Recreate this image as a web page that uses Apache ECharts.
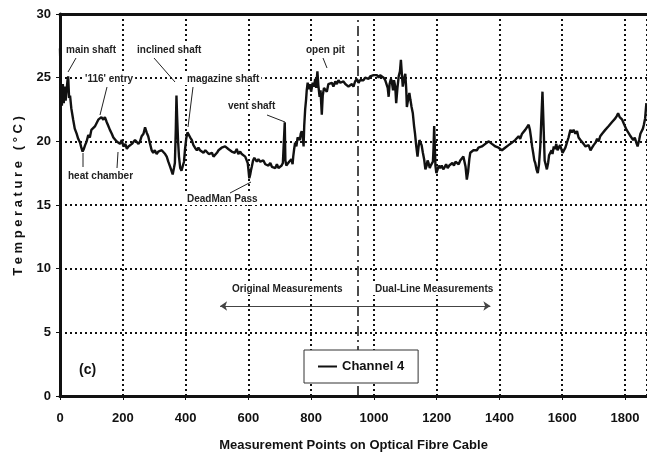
<!DOCTYPE html>
<html>
<head>
<meta charset="utf-8">
<script src="https://cdn.jsdelivr.net/npm/echarts@6/dist/echarts.min.js"></script>
<style>
  html, body { margin: 0; padding: 0; background: #fff; }
  #chart { width: 647px; height: 453px; }
</style>
</head>
<body>
<div id="chart"></div>
<script>
// measurement point positions along the cable
const points = [
  0, 3, 6, 9, 12, 15, 18, 21, 24, 26, 29, 32, 36, 42, 47, 53, 58, 64, 68, 72,
  76, 80, 85, 90, 95, 100, 106, 112, 118, 122, 127, 132, 138, 143, 149, 154, 159, 165, 170, 175,
  180, 186, 191, 197, 202, 208, 213, 218, 224, 229, 234, 239, 244, 250, 255, 260, 266, 271, 276, 281,
  286, 292, 297, 302, 308, 313, 318, 324, 329, 335, 340, 345, 351, 355, 359, 363, 366, 369, 371, 373,
  376, 379, 383, 387, 391, 395, 398, 402, 406, 410, 415, 420, 425, 430, 436, 441, 446, 452, 457, 463,
  468, 474, 479, 484, 489, 494, 500, 505, 510, 515, 520, 526, 531, 536, 541, 547, 552, 557, 563, 568,
  574, 579, 584, 590, 595, 598, 601, 603, 606, 609, 611, 615, 619, 622, 627, 632, 638, 643, 648, 654,
  659, 664, 670, 675, 680, 686, 691, 696, 701, 706, 710, 714, 716, 718, 721, 725, 730, 733, 737, 741,
  743, 746, 749, 753, 757, 760, 764, 767, 770, 773, 776, 778, 781, 784, 786, 789, 791, 794, 797, 800,
  802, 805, 809, 813, 816, 820, 823, 827, 830, 834, 837, 841, 845, 850, 855, 861, 866, 871, 877, 882,
  887, 893, 898, 903, 909, 914, 919, 924, 930, 935, 940, 946, 951, 956, 962, 967, 972, 978, 983, 988,
  994, 999, 1004, 1010, 1015, 1020, 1025, 1031, 1036, 1041, 1044, 1047, 1050, 1054, 1057, 1061, 1064, 1068, 1071, 1075,
  1079, 1083, 1086, 1089, 1092, 1096, 1100, 1103, 1105, 1109, 1113, 1116, 1120, 1124, 1128, 1131, 1135, 1139, 1142, 1145,
  1148, 1152, 1156, 1160, 1164, 1168, 1171, 1174, 1178, 1181, 1185, 1188, 1190, 1192, 1194, 1196, 1199, 1203, 1207, 1211,
  1216, 1221, 1226, 1230, 1235, 1240, 1245, 1250, 1255, 1260, 1265, 1270, 1275, 1280, 1285, 1288, 1292, 1296, 1300, 1304,
  1307, 1312, 1317, 1323, 1328, 1333, 1338, 1344, 1349, 1355, 1360, 1366, 1371, 1376, 1382, 1387, 1392, 1397, 1403, 1408,
  1413, 1418, 1424, 1429, 1434, 1440, 1445, 1450, 1456, 1461, 1466, 1472, 1477, 1482, 1488, 1493, 1497, 1501, 1504, 1508,
  1511, 1514, 1518, 1522, 1526, 1530, 1533, 1537, 1540, 1544, 1547, 1551, 1555, 1558, 1562, 1566, 1569, 1573, 1577, 1581,
  1585, 1589, 1593, 1597, 1601, 1605, 1610, 1615, 1620, 1626, 1631, 1636, 1642, 1647, 1652, 1658, 1663, 1668, 1674, 1679,
  1684, 1690, 1695, 1700, 1706, 1711, 1716, 1721, 1727, 1732, 1737, 1743, 1748, 1753, 1758, 1764, 1769, 1774, 1778, 1783,
  1787, 1791, 1796, 1800, 1805, 1810, 1815, 1821, 1826, 1831, 1836, 1840, 1845, 1849, 1853, 1857, 1860, 1864, 1868, 1870
];

// channel 4 temperature (deg C)
const channel4 = [
  27.3, 24.0, 22.8, 24.5, 23.0, 24.3, 23.2, 24.0, 24.8, 25.1, 23.4, 23.6, 22.6, 21.7, 21.0, 20.6, 20.2, 19.9, 19.5, 19.2,
  19.4, 19.7, 20.0, 20.5, 20.3, 20.9, 21.0, 21.2, 21.5, 21.7, 21.6, 21.9, 21.7, 21.9, 21.5, 21.2, 20.9, 20.6, 20.3, 20.4,
  20.0, 20.1, 19.8, 20.1, 19.6, 19.8, 19.4, 19.6, 19.5, 19.8, 19.7, 20.1, 20.2, 19.8, 20.0, 20.4, 20.6, 21.1, 20.7, 20.4,
  19.9, 19.3, 19.1, 19.3, 19.0, 19.2, 19.1, 19.3, 19.2, 19.0, 18.8, 18.4, 18.0, 17.7, 17.4, 17.9, 18.3, 21.0, 23.6, 22.0,
  20.1, 18.8, 17.9, 17.7, 17.8, 18.4, 19.3, 20.2, 20.7, 20.6, 20.3, 20.1, 19.7, 19.5, 19.3, 19.5, 19.3, 19.4, 19.1, 19.3,
  19.2, 19.0, 18.9, 19.1, 18.8, 18.9, 19.1, 19.3, 19.2, 19.5, 19.4, 19.6, 19.6, 19.4, 19.5, 19.2, 19.3, 19.1, 19.4, 19.0,
  19.2, 19.0, 19.1, 18.8, 18.9, 18.3, 17.6, 17.1, 17.4, 17.8, 18.0, 18.5, 18.7, 18.6, 18.4, 18.6, 18.4, 18.3, 18.5, 18.2,
  18.3, 18.1, 18.3, 18.0, 18.1, 17.9, 18.2, 17.9, 18.0, 18.1, 18.3, 18.4, 21.5, 18.5, 18.1, 18.0, 18.4, 18.3, 18.6, 18.2,
  18.8, 19.4, 19.9, 19.6, 20.3, 20.4, 20.1, 20.6, 20.8, 20.4, 19.6, 21.2, 22.5, 23.3, 24.0, 24.6, 24.7, 24.1, 24.5, 23.9,
  24.0, 24.6, 24.3, 24.9, 24.2, 25.5, 24.4, 23.5, 24.0, 22.1, 23.6, 24.2, 24.3, 23.9, 24.5, 24.4, 24.6, 24.3, 24.7, 24.5,
  24.8, 24.6, 24.5, 24.7, 24.5, 24.6, 24.3, 24.4, 24.5, 24.3, 24.7, 24.9, 24.6, 24.8, 24.9, 24.8, 25.0, 25.1, 24.9, 25.1,
  25.0, 25.2, 25.1, 25.2, 25.0, 25.2, 25.1, 25.0, 24.8, 24.8, 24.2, 23.5, 24.5, 24.9, 24.7, 24.0, 24.8, 24.3, 23.0, 24.2,
  25.1, 25.5, 26.4, 25.3, 24.3, 24.9, 25.3, 24.1, 22.7, 23.3, 23.8, 23.3, 22.7, 22.2, 21.2, 20.6, 19.6, 18.8, 19.5, 20.1,
  20.1, 19.7, 19.1, 18.6, 17.8, 18.1, 18.5, 18.3, 17.9, 18.1, 18.0, 18.4, 19.5, 21.2, 19.6, 18.1, 17.5, 17.8, 18.1, 17.9,
  18.1, 17.8, 18.0, 18.2, 17.9, 18.1, 18.0, 18.3, 18.1, 18.4, 18.3, 18.2, 18.5, 18.6, 18.8, 18.8, 18.0, 17.0, 17.6, 18.6,
  19.1, 19.0, 19.3, 19.2, 19.3, 19.5, 19.4, 19.6, 19.6, 19.8, 19.7, 20.0, 19.9, 19.8, 19.9, 19.6, 19.7, 19.5, 19.6, 19.3,
  19.2, 19.5, 19.4, 19.7, 19.6, 19.9, 19.8, 20.1, 20.1, 20.4, 20.2, 20.6, 20.6, 20.9, 21.0, 21.3, 20.9, 20.2, 19.6, 19.0,
  18.5, 18.3, 17.8, 17.5, 18.2, 19.6, 21.5, 23.9, 21.6, 18.5, 18.2, 17.8, 18.3, 18.9, 18.8, 19.3, 19.0, 19.6, 19.4, 19.8,
  19.3, 19.3, 19.7, 19.4, 19.1, 19.1, 19.5, 19.6, 20.3, 20.9, 20.7, 20.9, 20.6, 20.8, 20.3, 20.1, 20.2, 19.8, 19.6, 19.5,
  19.7, 19.3, 19.5, 19.7, 19.9, 20.2, 20.0, 20.4, 20.6, 20.5, 20.9, 21.0, 21.2, 21.3, 21.5, 21.6, 21.8, 22.0, 22.2, 21.9,
  21.9, 21.7, 21.4, 21.3, 20.9, 20.7, 20.5, 20.4, 20.1, 20.3, 19.9, 19.6, 20.1, 20.6, 20.7, 21.0, 21.3, 21.8, 23.0, 23.0
];

const xTicks = [0, 200, 400, 600, 800, 1000, 1200, 1400, 1600, 1800];
const yTicks = [0, 5, 10, 15, 20, 25, 30];
const boundary = 950; // start of dual-line measurements

// site labels: text, left x, middle y (px), leader line
const sites = [
  { text: "main shaft", x: 66, y: 51, line: [76, 58, 68, 72] },
  { text: "inclined shaft", x: 137, y: 51, line: [154, 58, 175, 82] },
  { text: "open pit", x: 306, y: 51, line: [323, 58, 327, 68] },
  { text: "'116' entry", x: 85, y: 80, line: [107, 87, 100, 115] },
  { text: "magazine shaft", x: 187, y: 80, line: [193, 87, 188, 127] },
  { text: "vent shaft", x: 228, y: 107, line: [267, 115, 285, 122] },
  { text: "heat chamber", x: 68, y: 177, line: [83, 153, 83, 167] },
  { text: "", x: 0, y: 0, line: [118, 152, 117, 168] },
  { text: "DeadMan Pass", x: 187, y: 200, line: [230, 193, 251, 182] },
  { text: "Original Measurements", x: 232, y: 290, line: null },
  { text: "Dual-Line Measurements", x: 375, y: 290, line: null }
];

const font = "Liberation Sans, Arial, Helvetica, sans-serif";

const graphics = [];
sites.forEach((s) => {
  if (s.text) {
    graphics.push({
      type: "text", left: s.x - 2, top: s.y - 7, z: 50,
      style: {
        text: s.text, font: "bold 10px " + font, fill: "#222",
        backgroundColor: "#fff", padding: [1, 2]
      }
    });
  }
  if (s.line) {
    graphics.push({
      type: "line", z: 51,
      shape: { x1: s.line[0], y1: s.line[1], x2: s.line[2], y2: s.line[3] },
      style: { stroke: "#222", lineWidth: 1 }
    });
  }
});
graphics.push({
  type: "text", left: 79, top: 363, z: 50,
  style: { text: "(c)", font: "bold 14px " + font, fill: "#111" }
});

const yName = "\u00a0\u00a0\u00a0\u00a0\u00a0T e m p e r a t u r e   ( ° C )";

const chart = echarts.init(document.getElementById("chart"));
chart.setOption({
  animation: false,
  grid: { left: 60, right: 0, top: 14, bottom: 57, outerBoundsMode: "none", containLabel: false },
  legend: {
    left: 304, top: 350, z: 20,
    padding: [10, 14],
    backgroundColor: "#fff",
    borderColor: "#333", borderWidth: 1, borderRadius: 0,
    icon: "rect", itemWidth: 19, itemHeight: 2, itemGap: 5,
    textStyle: { fontFamily: font, fontWeight: "bold", fontSize: 13, color: "#111" },
    data: ["Channel 4"]
  },
  xAxis: [
    {
      type: "value", min: 0, max: 1870, interval: 200,
      name: "Measurement Points on Optical Fibre Cable",
      nameLocation: "middle", nameGap: 43,
      nameTextStyle: { fontFamily: font, fontWeight: "bold", fontSize: 13, color: "#111" },
      axisLine: { lineStyle: { color: "#111", width: 3 } },
      axisTick: { show: true, length: 4, lineStyle: { color: "#111", width: 1 } },
      axisLabel: {
        margin: 16, fontFamily: font, fontWeight: "bold", fontSize: 13, color: "#111",
        showMaxLabel: false,
        formatter: (v) => (xTicks.includes(v) ? String(v) : "")
      },
      splitLine: { show: true, lineStyle: { color: "#111", width: 2, type: [2, 3] } }
    },
    {
      type: "value", position: "top", min: 0, max: 1870,
      axisLine: { show: true, lineStyle: { color: "#111", width: 3 } },
      axisTick: { show: false }, axisLabel: { show: false }, splitLine: { show: false }
    }
  ],
  yAxis: {
    type: "value", min: 0, max: 30, interval: 5,
    name: yName,
    nameLocation: "middle", nameGap: 35, nameRotate: 90,
    nameTextStyle: { fontFamily: font, fontWeight: "bold", fontSize: 13, color: "#111" },
    axisLine: { show: true, lineStyle: { color: "#111", width: 3 } },
    axisTick: { show: true, length: 4, lineStyle: { color: "#111", width: 1 } },
    axisLabel: {
      margin: 9, fontFamily: font, fontWeight: "bold", fontSize: 13, color: "#111",
      formatter: (v) => (yTicks.includes(v) ? String(v) : "")
    },
    splitLine: { show: true, lineStyle: { color: "#111", width: 2, type: [2, 3] } }
  },
  series: [
    {
      name: "Channel 4",
      type: "line",
      data: points.map((p, i) => [p, channel4[i]]),
      showSymbol: false,
      itemStyle: { color: "#111" },
      lineStyle: { color: "#111", width: 2.4 },
      z: 5,
      markLine: {
        silent: true,
        label: { show: false },
        data: [
          [
            { coord: [boundary, 0], symbol: "none", lineStyle: { color: "#111", width: 1.5, type: [10, 4, 2, 4] } },
            { coord: [boundary, 30], symbol: "none" }
          ],
          [
            { coord: [510, 7.07], symbol: "arrow", symbolSize: 7, lineStyle: { color: "#444", width: 1, type: "solid" } },
            { coord: [1371, 7.07], symbol: "arrow", symbolSize: 7 }
          ]
        ]
      }
    }
  ],
  graphic: graphics
});
</script>
</body>
</html>
